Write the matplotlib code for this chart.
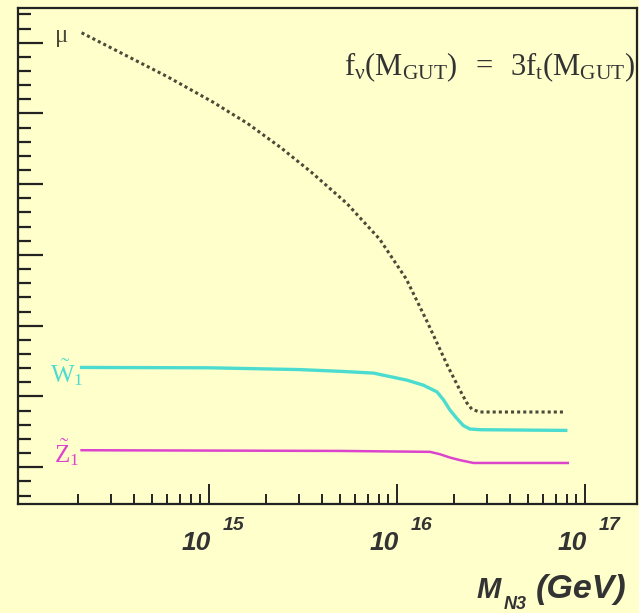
import matplotlib
matplotlib.use("Agg")
import matplotlib.pyplot as plt
from matplotlib.ticker import FixedLocator, MultipleLocator, LogLocator, NullFormatter

plt.rcParams["mathtext.fontset"] = "custom"
plt.rcParams["mathtext.rm"] = "Liberation Serif"
plt.rcParams["mathtext.it"] = "Liberation Serif:italic"
plt.rcParams["mathtext.bf"] = "Liberation Serif:bold"

# data (x in GeV, y in arbitrary mass units)
mu_x = [2.1e14, 6.0e14, 1.05e15, 1.6e15, 2.4e15, 3.5e15, 5.4e15,
        8.1e15, 1.12e16, 1.45e16, 1.86e16, 2.16e16, 2.35e16, 2.5e16, 2.75e16, 7.9e16]
mu_y = [714, 652, 616, 586, 552, 517, 473,
        422, 366, 305, 243, 209, 191, 182, 178, 178]

w1_x = [2.1e14, 1.0e15, 3.0e15, 5.0e15, 7.5e15, 1.13e16, 1.38e16, 1.63e16,
        1.77e16, 1.91e16, 2.08e16, 2.25e16, 2.44e16, 2.75e16, 7.9e16]
w1_y = [241, 240.5, 238, 235.5, 233, 223, 216, 206.5,
        195, 181, 169, 159, 154, 153, 152]

z1_x = [2.1e14, 5.0e15, 1.5e16, 1.69e16, 1.91e16, 2.16e16, 2.55e16, 8.1e16]
z1_y = [124, 123, 121.7, 118.4, 113.7, 110, 106, 106]

decades = [15, 16, 17]
equation = r"$\mathrm{f_{\nu}(M_{GUT})\;\ =\;\ 3f_{t}(M_{GUT})}$"

BG = "#ffffcc"
DARK = "#4a4a38"
TEXT = "#333333"
CYAN = "#4cdccf"
PINK = "#dd44cc"

fig = plt.figure(figsize=(6.39, 6.13), dpi=100)
fig.patch.set_facecolor(BG)
ax = fig.add_axes([18 / 639, 1 - 504 / 613, (637 - 18) / 639, (504 - 8) / 613])
ax.set_facecolor(BG)

ax.plot(mu_x, mu_y, color=DARK, lw=2.2, linestyle=(0, (1, 1)), dash_capstyle="butt")
ax.plot(w1_x, w1_y, color=CYAN, lw=2.4)
ax.plot(z1_x, z1_y, color=PINK, lw=1.8)

ax.set_xscale("log")
ax.set_xlim(9.64e13, 1.89e17)
ax.set_ylim(48, 749)

# ticks
ax.xaxis.set_major_locator(FixedLocator([10.0 ** d for d in decades]))
ax.xaxis.set_minor_locator(LogLocator(base=10, subs=range(2, 10), numticks=20))
ax.xaxis.set_major_formatter(NullFormatter())
ax.xaxis.set_minor_formatter(NullFormatter())
ax.yaxis.set_major_locator(MultipleLocator(100))
ax.yaxis.set_minor_locator(MultipleLocator(20))
ax.yaxis.set_major_formatter(NullFormatter())
ax.tick_params(axis="x", which="major", direction="in", length=14.5, width=1.4, color="#222222")
ax.tick_params(axis="x", which="minor", direction="in", length=7.2, width=1.4, color="#222222")
ax.tick_params(axis="y", which="major", direction="in", length=18, width=1.6, color="#222222")
ax.tick_params(axis="y", which="minor", direction="in", length=9.4, width=1.6, color="#222222")
for s in ax.spines.values():
    s.set_color("#222222")
    s.set_linewidth(1.6)

# tick labels: bold italic "10" with raised exponent
xt = ax.get_xaxis_transform()
for d in decades:
    ax.annotate("10", xy=(10.0 ** d, 0), xycoords=xt, xytext=(2, -46),
                textcoords="offset pixels", ha="right", va="baseline",
                family="Liberation Sans", weight="bold", style="italic",
                fontsize=19, color=TEXT, annotation_clip=False)
    ax.annotate(str(d), xy=(10.0 ** d, 0), xycoords=xt, xytext=(14, -26),
                textcoords="offset pixels", ha="left", va="baseline",
                family="Liberation Sans", weight="bold", style="italic",
                fontsize=14, color=TEXT, annotation_clip=False)

# curve labels
ax.annotate(r"$\mathrm{\mu}$", xy=(mu_x[0], mu_y[0]), xytext=(-13, -9),
            textcoords="offset pixels", ha="right", va="baseline",
            fontsize=18, color=DARK)
ax.annotate(r"$\tilde{\mathrm{W}}_{\mathrm{1}}$", xy=(w1_x[0], w1_y[0]), xytext=(2, -15),
            textcoords="offset pixels", ha="right", va="baseline",
            fontsize=18, color=CYAN)
ax.annotate(r"$\tilde{\mathrm{Z}}_{\mathrm{1}}$", xy=(z1_x[0], z1_y[0]), xytext=(-2, -12),
            textcoords="offset pixels", ha="right", va="baseline",
            fontsize=18, color=PINK)

ax.text(0.997, 0.865, equation, transform=ax.transAxes, ha="right", va="baseline",
        fontsize=22, color=TEXT)

# axis title, pieced together
fig.text(476 / 639, 1 - 598 / 613, "M", family="Liberation Sans", weight="bold",
         style="italic", fontsize=21, color=TEXT, va="baseline")
fig.text(504 / 639, 1 - 609 / 613, "N3", family="Liberation Sans", weight="bold",
         style="italic", fontsize=13, color=TEXT, va="baseline")
fig.text(536 / 639, 1 - 598 / 613, "(GeV)", family="Liberation Sans", weight="bold",
         style="italic", fontsize=24.5, color=TEXT, va="baseline")

fig.savefig("out.png", dpi=100, facecolor=BG)
